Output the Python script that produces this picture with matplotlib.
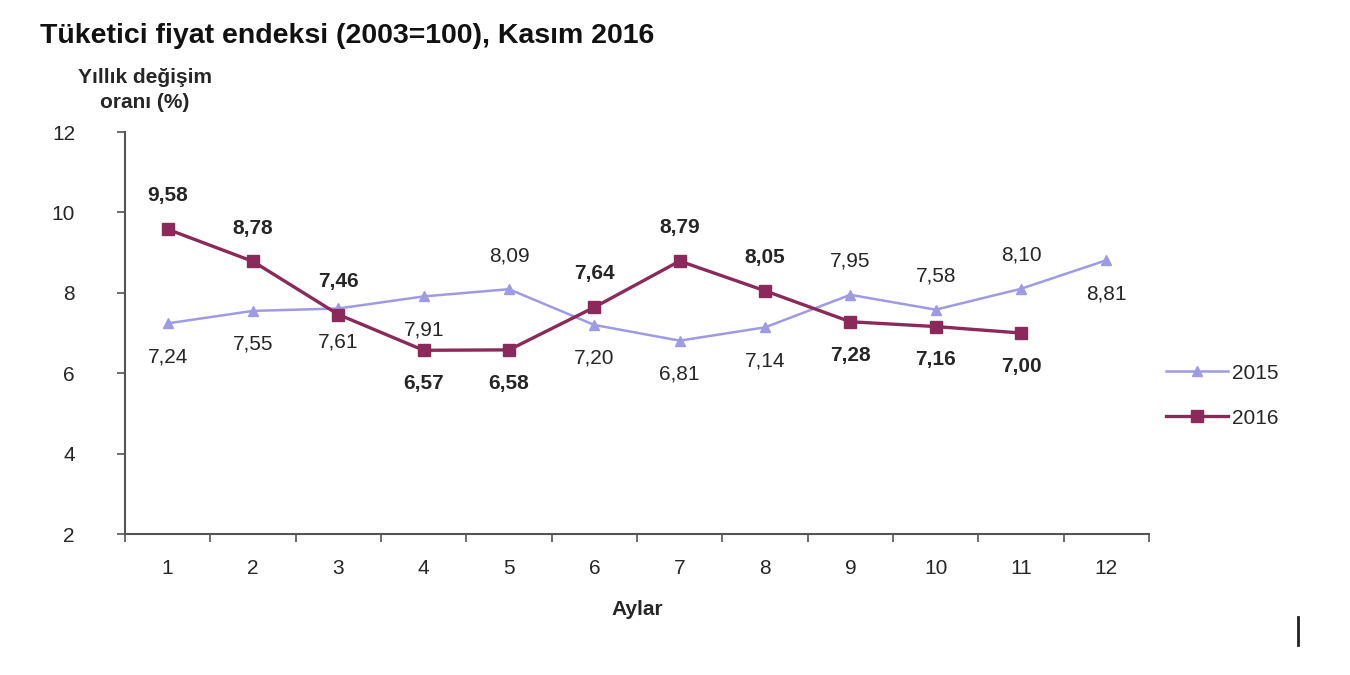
import matplotlib
matplotlib.use("Agg")
import matplotlib.pyplot as plt
from matplotlib.lines import Line2D
from matplotlib.ticker import FixedLocator

plt.rcParams['font.family'] = ['Liberation Sans', 'DejaVu Sans']

# data
months = [1, 2, 3, 4, 5, 6, 7, 8, 9, 10, 11, 12]
values_2015 = [7.24, 7.55, 7.61, 7.91, 8.09, 7.20, 6.81, 7.14, 7.95, 7.58, 8.10, 8.81]
months_2016 = [1, 2, 3, 4, 5, 6, 7, 8, 9, 10, 11]
values_2016 = [9.58, 8.78, 7.46, 6.57, 6.58, 7.64, 8.79, 8.05, 7.28, 7.16, 7.00]
# label side: +1 above, -1 below
side_2015 = [-1, -1, -1, -1, 1, -1, -1, -1, 1, 1, 1, -1]
side_2016 = [1, 1, 1, -1, -1, 1, 1, 1, -1, -1, -1]
yticks = [2, 4, 6, 8, 10, 12]

c2015 = '#9f9ae6'
c2016 = '#8b2a5a'
txt = '#262626'

fig = plt.figure(figsize=(13.5, 6.75), dpi=100)
ax = fig.add_axes([125 / 1350, 1 - 534 / 675, 1024 / 1350, 402 / 675])

ax.plot(months, values_2015, color=c2015, lw=1.8, marker='^', ms=7, label='2015')
ax.plot(months_2016, values_2016, color=c2016, lw=2.4, marker='s', ms=8, label='2016')

def fmt(v):
    return f"{v:.2f}".replace('.', ',')

for x, v, s in zip(months, values_2015, side_2015):
    ax.annotate(fmt(v), (x, v), xytext=(0, 24 * s), textcoords='offset points',
                ha='center', va='center', fontsize=15, color=txt)
for x, v, s in zip(months_2016, values_2016, side_2016):
    ax.annotate(fmt(v), (x, v), xytext=(0, 24 * s), textcoords='offset points',
                ha='center', va='center', fontsize=15, color=txt, fontweight='bold')

ax.set_xlim(0.5, 12.5)
ax.set_ylim(2, 12)
ax.set_yticks(yticks)
ax.set_xticks(months)
ax.xaxis.set_minor_locator(FixedLocator([m + 0.5 for m in [0] + months]))
ax.tick_params(axis='x', which='major', length=0, pad=18, labelsize=15, labelcolor=txt)
ax.tick_params(axis='x', which='minor', length=6, width=1.2, color='#555555')
ax.tick_params(axis='y', length=6, width=1.2, color='#555555', pad=30, labelsize=15, labelcolor=txt)
for side in ['top', 'right']:
    ax.spines[side].set_visible(False)
for side in ['left', 'bottom']:
    ax.spines[side].set_color('#555555')
    ax.spines[side].set_linewidth(1.5)

ax.set_xlabel('Aylar', fontsize=15, fontweight='bold', color=txt, labelpad=16)

fig.text(40 / 1350, 1 - 36 / 675, 'Tüketici fiyat endeksi (2003=100), Kasım 2016',
         fontsize=20.5, fontweight='bold', va='center', ha='left', color='#111111')
fig.text(145 / 1350, 1 - 90 / 675, 'Yıllık değişim\noranı (%)', fontsize=15,
         fontweight='bold', ha='center', va='center', color=txt, linespacing=1.4)

ax.legend(loc='center left', bbox_to_anchor=(1.0, 0.344), frameon=False, fontsize=15,
          handlelength=3, labelspacing=1.25, handletextpad=0.2, borderaxespad=0.4,
          labelcolor=txt)

fig.add_artist(Line2D([1298 / 1350, 1298 / 1350], [1 - 617 / 675, 1 - 645 / 675],
                      color='#222222', lw=2))

fig.savefig('out.png', dpi=100, facecolor='white')
